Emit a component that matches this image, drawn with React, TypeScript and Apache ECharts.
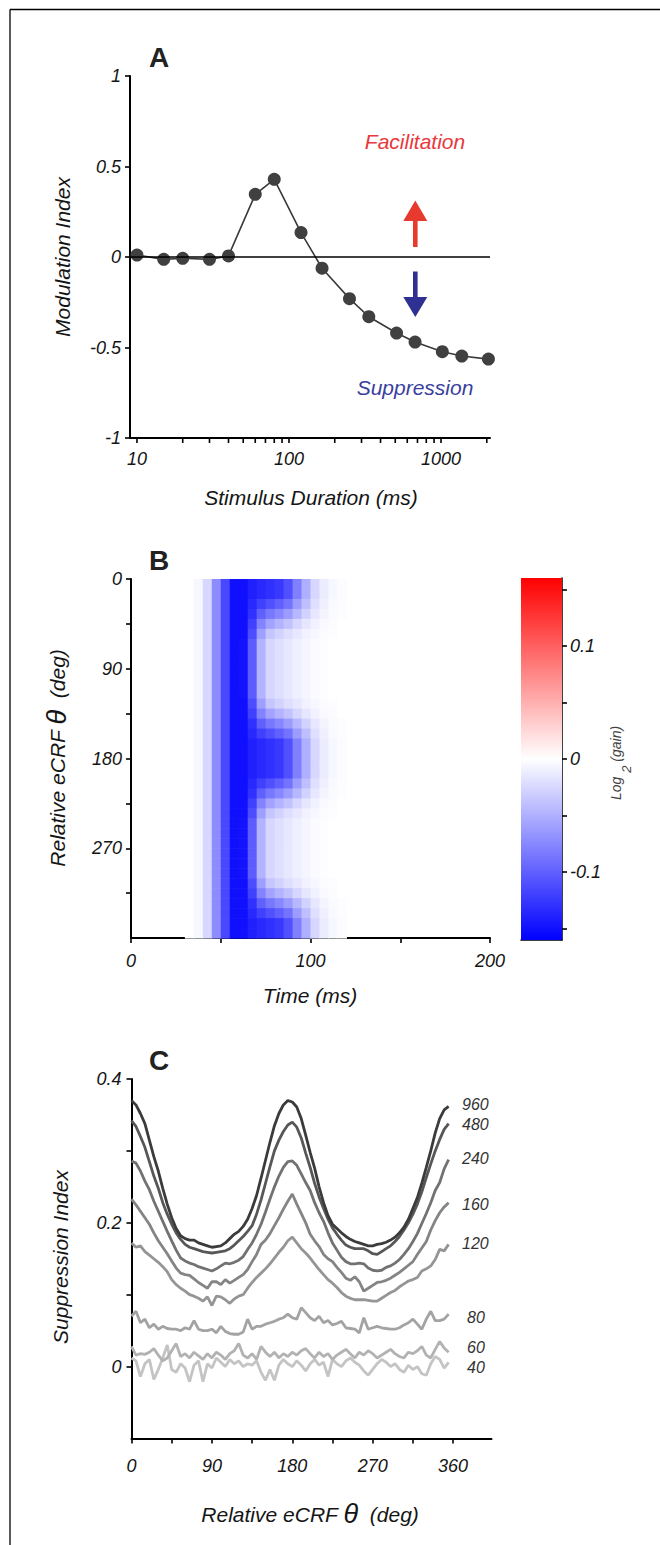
import React, { useEffect, useRef } from 'react';
import * as echarts from 'echarts';

// ---------- Panel A data ----------
const DURATIONS_MS = [10, 15, 20, 30, 40, 60, 80, 120, 165, 250, 335, 510, 675, 1020, 1370, 2050];
const MOD_INDEX = [0.011, -0.013, -0.007, -0.013, 0.006, 0.346, 0.429, 0.135, -0.062, -0.23, -0.33, -0.42, -0.47, -0.523, -0.547, -0.564];
const A_X_TICKS = [10, 20, 30, 40, 50, 60, 70, 80, 90, 100, 200, 300, 400, 500, 600, 700, 800, 900, 1000, 2000];

// ---------- Panel B data (log2 gain heat map) ----------
const HEAT_TIMES = [32.5, 37.5, 42.5, 47.5, 52.5, 57.5, 62.5, 67.5, 72.5, 77.5, 82.5, 87.5, 92.5, 97.5, 102.5, 107.5, 112.5, 117.5];
const HEAT_THETAS = [5, 15, 25, 35, 45, 55, 65, 75, 85, 95, 105, 115, 125, 135, 145, 155, 165, 175, 185, 195, 205, 215, 225, 235, 245, 255, 265, 275, 285, 295, 305, 315, 325, 335, 345, 355];
const PROFILE_L0 = [0, -0.005, -0.025, -0.072, -0.115, -0.15, -0.15, -0.14, -0.135, -0.13, -0.125, -0.11, -0.08, -0.05, -0.025, -0.012, -0.005, -0.002];
const PROFILE_L1 = [0, -0.005, -0.025, -0.072, -0.115, -0.15, -0.15, -0.135, -0.12, -0.11, -0.1, -0.088, -0.062, -0.04, -0.02, -0.01, -0.004, -0.001];
const PROFILE_L2 = [0, -0.005, -0.025, -0.072, -0.115, -0.15, -0.15, -0.13, -0.1, -0.085, -0.075, -0.062, -0.045, -0.028, -0.015, -0.007, -0.003, -0.001];
const PROFILE_L3 = [0, -0.005, -0.025, -0.072, -0.115, -0.15, -0.15, -0.12, -0.078, -0.058, -0.048, -0.038, -0.026, -0.016, -0.009, -0.004, -0.002, 0];
const PROFILE_L4 = [0, -0.005, -0.025, -0.072, -0.115, -0.15, -0.15, -0.112, -0.06, -0.036, -0.028, -0.021, -0.015, -0.009, -0.005, -0.002, -0.001, 0];
const PROFILE_L5 = [0, -0.005, -0.025, -0.072, -0.115, -0.15, -0.148, -0.102, -0.048, -0.026, -0.02, -0.015, -0.01, -0.006, -0.003, -0.001, 0, 0];
const PROFILES = [PROFILE_L0, PROFILE_L1, PROFILE_L2, PROFILE_L3, PROFILE_L4, PROFILE_L5];
const ROW_PROFILE = [0, 0, 1, 2, 3, 4, 5, 5, 5, 5, 5, 5, 4, 3, 2, 1, 0, 0, 0, 0, 1, 2, 3, 4, 5, 5, 5, 5, 5, 5, 4, 3, 2, 1, 0, 0];
const COLORBAR_TICKS = [-0.15, -0.1, -0.05, 0, 0.05, 0.1, 0.15];
const COLORBAR_LABELS = [-0.1, 0, 0.1];

// ---------- Panel C data ----------
const THETA_DEG = [0, 5, 10, 15, 20, 25, 30, 35, 40, 45, 50, 55, 60, 65, 70, 75, 80, 85, 90, 95, 100, 105, 110, 115, 120, 125, 130, 135, 140, 145, 150, 155, 160, 165, 170, 175, 180, 185, 190, 195, 200, 205, 210, 215, 220, 225, 230, 235, 240, 245, 250, 255, 260, 265, 270, 275, 280, 285, 290, 295, 300, 305, 310, 315, 320, 325, 330, 335, 340, 345, 350, 355];
const SI_40 = [0.012, 0.008, -0.014, 0.004, 0.010, -0.018, -0.004, 0.012, 0.030, -0.004, -0.008, 0.004, -0.002, -0.021, 0.002, 0.008, -0.021, 0.004, -0.002, 0.012, 0.006, 0.000, 0.010, 0.004, 0.008, 0.000, 0.004, 0.002, 0.008, -0.008, -0.019, -0.004, -0.019, 0.002, 0.010, 0.004, 0.000, 0.008, 0.002, -0.006, 0.004, 0.010, 0.002, 0.006, -0.014, 0.010, 0.004, 0.000, 0.008, 0.012, 0.006, 0.002, -0.006, -0.012, -0.004, 0.004, 0.010, 0.006, 0.000, 0.004, -0.004, -0.008, 0.002, -0.004, 0.000, -0.010, -0.012, 0.004, 0.014, 0.010, -0.002, 0.006];
const SI_60 = [0.028, 0.016, 0.018, 0.017, 0.020, 0.025, 0.016, 0.008, 0.012, 0.022, 0.032, 0.014, 0.018, 0.012, 0.020, 0.015, 0.010, 0.018, 0.012, 0.020, 0.016, 0.010, 0.018, 0.022, 0.032, 0.016, 0.012, 0.018, 0.010, 0.028, 0.020, 0.014, 0.020, 0.012, 0.018, 0.014, 0.020, 0.016, 0.022, 0.025, 0.018, 0.012, 0.020, 0.014, 0.018, 0.010, 0.016, 0.020, 0.024, 0.018, 0.012, 0.020, 0.016, 0.022, 0.018, 0.012, 0.016, 0.020, 0.024, 0.018, 0.014, 0.012, 0.020, 0.018, 0.022, 0.028, 0.016, 0.012, 0.024, 0.035, 0.026, 0.020];
const SI_80 = [0.070, 0.077, 0.061, 0.066, 0.054, 0.059, 0.052, 0.056, 0.053, 0.052, 0.052, 0.050, 0.054, 0.052, 0.064, 0.052, 0.050, 0.050, 0.052, 0.047, 0.056, 0.049, 0.046, 0.045, 0.045, 0.048, 0.066, 0.052, 0.056, 0.056, 0.059, 0.061, 0.063, 0.066, 0.068, 0.073, 0.068, 0.066, 0.082, 0.075, 0.068, 0.064, 0.070, 0.061, 0.064, 0.058, 0.060, 0.063, 0.054, 0.053, 0.052, 0.047, 0.068, 0.052, 0.054, 0.056, 0.054, 0.053, 0.052, 0.052, 0.054, 0.058, 0.061, 0.066, 0.059, 0.052, 0.066, 0.077, 0.064, 0.064, 0.066, 0.073];
const SI_120 = [0.172, 0.166, 0.168, 0.160, 0.155, 0.150, 0.145, 0.139, 0.132, 0.121, 0.114, 0.109, 0.105, 0.100, 0.098, 0.095, 0.091, 0.097, 0.085, 0.098, 0.097, 0.093, 0.088, 0.094, 0.098, 0.100, 0.109, 0.117, 0.124, 0.130, 0.136, 0.143, 0.151, 0.159, 0.166, 0.175, 0.180, 0.172, 0.164, 0.158, 0.151, 0.143, 0.135, 0.128, 0.121, 0.116, 0.110, 0.103, 0.098, 0.095, 0.093, 0.093, 0.093, 0.092, 0.091, 0.091, 0.095, 0.099, 0.103, 0.106, 0.111, 0.115, 0.119, 0.121, 0.124, 0.133, 0.136, 0.140, 0.149, 0.163, 0.161, 0.170];
const SI_160 = [0.233, 0.225, 0.216, 0.207, 0.198, 0.186, 0.175, 0.166, 0.157, 0.147, 0.137, 0.130, 0.128, 0.127, 0.122, 0.117, 0.113, 0.109, 0.118, 0.118, 0.114, 0.121, 0.116, 0.120, 0.124, 0.128, 0.135, 0.146, 0.156, 0.170, 0.176, 0.185, 0.196, 0.207, 0.219, 0.230, 0.240, 0.226, 0.213, 0.200, 0.184, 0.175, 0.167, 0.156, 0.150, 0.146, 0.138, 0.131, 0.123, 0.120, 0.125, 0.118, 0.105, 0.109, 0.113, 0.117, 0.118, 0.120, 0.123, 0.127, 0.131, 0.136, 0.141, 0.146, 0.156, 0.165, 0.174, 0.190, 0.203, 0.214, 0.222, 0.228];
const SI_240 = [0.286, 0.283, 0.272, 0.258, 0.246, 0.230, 0.216, 0.202, 0.188, 0.175, 0.162, 0.151, 0.147, 0.144, 0.142, 0.139, 0.137, 0.135, 0.133, 0.136, 0.140, 0.144, 0.143, 0.145, 0.148, 0.153, 0.163, 0.172, 0.184, 0.198, 0.215, 0.233, 0.250, 0.265, 0.277, 0.285, 0.286, 0.280, 0.268, 0.256, 0.245, 0.228, 0.214, 0.202, 0.186, 0.172, 0.162, 0.152, 0.146, 0.143, 0.143, 0.144, 0.143, 0.137, 0.134, 0.133, 0.134, 0.138, 0.140, 0.144, 0.149, 0.156, 0.164, 0.174, 0.185, 0.199, 0.213, 0.228, 0.245, 0.256, 0.275, 0.288];
const SI_480 = [0.342, 0.334, 0.320, 0.305, 0.285, 0.265, 0.248, 0.228, 0.212, 0.198, 0.186, 0.177, 0.170, 0.166, 0.164, 0.162, 0.160, 0.159, 0.158, 0.159, 0.160, 0.161, 0.164, 0.169, 0.175, 0.181, 0.188, 0.196, 0.212, 0.232, 0.255, 0.278, 0.300, 0.315, 0.327, 0.336, 0.340, 0.333, 0.318, 0.297, 0.277, 0.255, 0.236, 0.220, 0.205, 0.193, 0.184, 0.176, 0.169, 0.166, 0.164, 0.164, 0.164, 0.161, 0.157, 0.156, 0.160, 0.164, 0.168, 0.174, 0.181, 0.190, 0.200, 0.212, 0.226, 0.243, 0.263, 0.282, 0.300, 0.316, 0.330, 0.338];
const SI_960 = [0.370, 0.364, 0.352, 0.338, 0.315, 0.292, 0.272, 0.248, 0.226, 0.207, 0.192, 0.182, 0.178, 0.176, 0.176, 0.172, 0.170, 0.168, 0.166, 0.167, 0.168, 0.172, 0.178, 0.184, 0.188, 0.195, 0.205, 0.220, 0.238, 0.262, 0.287, 0.312, 0.335, 0.352, 0.364, 0.370, 0.368, 0.361, 0.345, 0.322, 0.298, 0.276, 0.250, 0.228, 0.210, 0.198, 0.192, 0.186, 0.181, 0.177, 0.174, 0.172, 0.170, 0.168, 0.168, 0.170, 0.171, 0.173, 0.176, 0.180, 0.186, 0.194, 0.205, 0.220, 0.235, 0.255, 0.277, 0.300, 0.325, 0.345, 0.357, 0.362];
const C_SERIES = [SI_40, SI_60, SI_80, SI_120, SI_160, SI_240, SI_480, SI_960];
const C_NAMES = ['40', '60', '80', '120', '160', '240', '480', '960'];
const C_COLORS = ['#c4c4c4', '#b2b2b2', '#a3a3a3', '#959595', '#848484', '#727272', '#575757', '#3b3b3b'];
const C_X_TICKS = [0, 45, 90, 135, 180, 225, 270, 315, 360];
const C_X_LABELS = [0, 90, 180, 270, 360];
const C_Y_TICKS = [0, 0.1, 0.2, 0.3, 0.4];
const C_Y_LABELS = [0, 0.2, 0.4];
const B_Y_TICKS = [0, 45, 90, 135, 180, 225, 270, 315];
const B_Y_LABELS = [0, 90, 180, 270];
const B_X_TICKS = [0, 50, 100, 150, 200];
const B_X_LABELS = [0, 100, 200];

const FONT = "'Liberation Sans', Arial, Helvetica, sans-serif";
const INK = '#151515';

const labelStyle = { color: INK, fontSize: 18, fontStyle: 'italic', fontFamily: FONT };
const lineStyle = { lineStyle: { color: '#000', width: 2 } };

function buildOption() {
  const heatData: number[][] = [];
  HEAT_THETAS.forEach((th, r) => {
    const prof = PROFILES[ROW_PROFILE[r]];
    HEAT_TIMES.forEach((t, c) => heatData.push([t, th, prof[c]]));
  });

  const cLabelPos: Record<string, [number, number]> = {
    '960': [462, 1104], '480': [462, 1124], '240': [462, 1158], '160': [462, 1204],
    '120': [462, 1243], '80': [467, 1317], '60': [467, 1347], '40': [467, 1367],
  };

  const txt = (text: string, x: number, y: number, extra: any = {}) => ({
    type: 'text', x, y, silent: true,
    style: { text, fill: INK, fontSize: 21, fontStyle: 'italic', fontFamily: FONT, align: 'center', verticalAlign: 'middle', ...extra },
  });

  const thetaTitle = (x: number, y: number, rot: number) => ({
    type: 'text', x, y, rotation: rot, silent: true,
    style: {
      text: '{a|Relative eCRF }{t|θ}{a|  (deg)}', align: 'center', verticalAlign: 'middle',
      rich: {
        a: { fill: INK, fontSize: 21, fontStyle: 'italic', fontFamily: FONT },
        t: { fill: INK, fontSize: 27, fontStyle: 'italic', fontFamily: FONT },
      },
    },
  });

  const graphic: any[] = [
    { type: 'line', shape: { x1: 10, y1: 9.5, x2: 660, y2: 9.5 }, style: { stroke: '#000', lineWidth: 1.3 }, silent: true },
    { type: 'line', shape: { x1: 10, y1: 9.5, x2: 10, y2: 1545 }, style: { stroke: '#000', lineWidth: 1.3 }, silent: true },
    txt('A', 159, 57, { fontSize: 28, fontWeight: 'bold', fontStyle: 'normal', fill: '#222' }),
    txt('B', 159, 560, { fontSize: 28, fontWeight: 'bold', fontStyle: 'normal', fill: '#222' }),
    txt('C', 159, 1060, { fontSize: 28, fontWeight: 'bold', fontStyle: 'normal', fill: '#222' }),
    { ...txt('Modulation Index', 62, 257), rotation: Math.PI / 2 },
    txt('Stimulus Duration (ms)', 311, 497),
    txt('Facilitation', 415, 141, { fill: '#e8383d' }),
    txt('Suppression', 415, 387, { fill: '#3a3f9e' }),
    { type: 'rect', shape: { x: 413, y: 219, width: 4.6, height: 28 }, style: { fill: '#e8392f' }, silent: true },
    { type: 'polygon', shape: { points: [[415.3, 200.5], [403.3, 221], [427.3, 221]] }, style: { fill: '#e8392f' }, silent: true },
    { type: 'rect', shape: { x: 413, y: 271.5, width: 4.6, height: 27 }, style: { fill: '#2e3192' }, silent: true },
    { type: 'polygon', shape: { points: [[403.3, 297], [427.3, 297], [415.3, 317]] }, style: { fill: '#2e3192' }, silent: true },
    thetaTitle(57, 758, Math.PI / 2),
    txt('Time (ms)', 310, 995),
    {
      type: 'text', x: 621, y: 763, rotation: Math.PI / 2, silent: true,
      style: {
        text: '{a|Log }{s|2}{a| (gain)}', align: 'center', verticalAlign: 'middle',
        rich: {
          a: { fill: '#444', fontSize: 14, fontStyle: 'italic', fontFamily: FONT, lineHeight: 14, verticalAlign: 'top' },
          s: { fill: '#444', fontSize: 13, fontStyle: 'italic', fontFamily: FONT, lineHeight: 24, verticalAlign: 'bottom' },
        },
      },
    },
    { ...txt('Suppression Index', 60, 1257), rotation: Math.PI / 2 },
    thetaTitle(310, 1514, 0),
  ];
  C_NAMES.forEach((n) => {
    const [x, y] = cLabelPos[n];
    graphic.push(txt(n, x, y, { fontSize: 16, align: 'left', fill: '#333' }));
  });

  const tickOut = (len = 5) => ({ show: true, inside: false, length: len, lineStyle: { color: '#000', width: 1.6 } });

  return {
    animation: false,
    backgroundColor: '#fff',
    grid: [
      { left: 130, top: 76, width: 360, height: 362 },
      { left: 131, top: 579, width: 359, height: 359 },
      { left: 521, top: 578, width: 41, height: 362 },
      { left: 131.5, top: 1079, width: 360, height: 359.5 },
    ],
    xAxis: [
      {
        gridIndex: 0, type: 'log', logBase: 10, min: 9, max: 2100,
        axisLine: { show: true, onZero: false, ...lineStyle }, axisTick: { show: false },
        splitLine: { show: false }, minorTick: { show: false },
        axisLabel: { ...labelStyle, margin: 12, showMinLabel: false, showMaxLabel: false, formatter: (v: number) => String(Math.round(v)) },
      },
      {
        gridIndex: 1, type: 'value', min: 0, max: 200,
        axisLine: { show: true, onZero: false, ...lineStyle },
        axisTick: { ...tickOut(), customValues: B_X_TICKS },
        axisLabel: { ...labelStyle, margin: 14, customValues: B_X_LABELS },
        splitLine: { show: false },
      },
      {
        gridIndex: 2, type: 'value', min: 0, max: 1,
        axisLine: { show: true, onZero: false, lineStyle: { color: '#000', width: 1.5 } },
        axisTick: { show: false }, axisLabel: { show: false }, splitLine: { show: false },
      },
      {
        gridIndex: 3, type: 'value', min: 0, max: 403,
        axisLine: { show: true, onZero: false, ...lineStyle },
        axisTick: { ...tickOut(), customValues: C_X_TICKS },
        axisLabel: { ...labelStyle, margin: 18, customValues: C_X_LABELS },
        splitLine: { show: false },
      },
    ],
    yAxis: [
      {
        gridIndex: 0, type: 'value', min: -1, max: 1, interval: 0.5,
        axisLine: { show: true, onZero: false, ...lineStyle }, axisTick: tickOut(),
        axisLabel: { ...labelStyle, margin: 9 }, splitLine: { show: false },
      },
      {
        gridIndex: 1, type: 'value', min: 0, max: 360, inverse: true,
        axisLine: { show: true, onZero: false, ...lineStyle },
        axisTick: { ...tickOut(), customValues: B_Y_TICKS },
        axisLabel: { ...labelStyle, margin: 9, customValues: B_Y_LABELS },
        splitLine: { show: false },
      },
      {
        gridIndex: 2, type: 'value', min: -0.16, max: 0.16, position: 'right',
        axisLine: { show: true, onZero: false, lineStyle: { color: '#000', width: 1.5 } },
        axisTick: { ...tickOut(), customValues: COLORBAR_TICKS },
        axisLabel: { ...labelStyle, margin: 8, customValues: COLORBAR_LABELS, formatter: (v: number) => String(Math.round(v * 100) / 100) },
        splitLine: { show: false },
      },
      {
        gridIndex: 3, type: 'value', min: -0.1, max: 0.4,
        axisLine: { show: true, onZero: false, ...lineStyle },
        axisTick: { ...tickOut(), customValues: C_Y_TICKS },
        axisLabel: { ...labelStyle, margin: 10, customValues: C_Y_LABELS, formatter: (v: number) => String(Math.round(v * 10) / 10) },
        splitLine: { show: false },
      },
    ],
    visualMap: [
      {
        type: 'continuous', show: false, seriesIndex: 2, dimension: 2, min: -0.16, max: 0.16,
        inRange: { color: ['#0000ff', '#ffffff', '#ff0000'] },
      },
    ],
    graphic,
    series: [
      {
        type: 'line', xAxisIndex: 0, yAxisIndex: 0, silent: true,
        data: DURATIONS_MS.map((d, i) => [d, MOD_INDEX[i]]),
        symbol: 'circle', symbolSize: 13, z: 4,
        itemStyle: { color: '#404040' }, lineStyle: { color: '#3a3a3a', width: 1.6 },
        markLine: {
          silent: true, symbol: 'none', label: { show: false },
          lineStyle: { color: '#000', width: 1.5, type: 'solid' }, data: [{ yAxis: 0 }],
        },
      },
      {
        type: 'custom', xAxisIndex: 0, yAxisIndex: 0, silent: true, z: 5,
        data: A_X_TICKS.map((v) => [v, -1]), encode: { x: 0, y: 1 },
        renderItem: (_p: any, api: any) => {
          const p = api.coord([api.value(0), api.value(1)]);
          return { type: 'line', shape: { x1: p[0], y1: p[1], x2: p[0], y2: p[1] + 5 }, style: { stroke: '#000', lineWidth: 1.6 } };
        },
      },
      {
        type: 'custom', xAxisIndex: 1, yAxisIndex: 1, silent: true, z: 1,
        data: heatData, encode: { x: 0, y: 1 },
        renderItem: (_p: any, api: any) => {
          const t = api.value(0);
          const th = api.value(1);
          const p0 = api.coord([t - 2.5, th - 5]);
          const p1 = api.coord([t + 2.5, th + 5]);
          return {
            type: 'rect',
            shape: { x: Math.min(p0[0], p1[0]), y: Math.min(p0[1], p1[1]), width: Math.abs(p1[0] - p0[0]) + 0.6, height: Math.abs(p1[1] - p0[1]) + 0.6 },
            style: { fill: api.visual('color') },
          };
        },
      },
      {
        type: 'custom', xAxisIndex: 2, yAxisIndex: 2, silent: true, z: 1,
        data: [[0, 0]], encode: { x: 0, y: 1 },
        renderItem: (_p: any, api: any) => {
          const a = api.coord([0, 0.16]);
          const b = api.coord([1, -0.16]);
          return {
            type: 'rect',
            shape: { x: a[0], y: a[1], width: b[0] - a[0], height: b[1] - a[1] },
            style: {
              fill: {
                type: 'linear', x: 0, y: 0, x2: 0, y2: 1,
                colorStops: [{ offset: 0, color: '#ff0000' }, { offset: 0.5, color: '#ffffff' }, { offset: 1, color: '#0000ff' }],
              },
            },
          };
        },
      },
      ...C_SERIES.map((vals, i) => ({
        type: 'line', name: C_NAMES[i], xAxisIndex: 3, yAxisIndex: 3, silent: true,
        data: THETA_DEG.map((th, k) => [th, vals[k]]),
        showSymbol: false, symbol: 'none', z: 2 + i * 0.1,
        lineStyle: { color: C_COLORS[i], width: 2.8 },
      })),
    ],
  };
}

export default function App() {
  const ref = useRef<HTMLDivElement>(null);
  useEffect(() => {
    if (!ref.current) return;
    const chart = echarts.init(ref.current, null, { renderer: 'svg' });
    chart.setOption(buildOption() as any);
    return () => chart.dispose();
  }, []);
  return (
    <div
      ref={ref}
      style={{ position: 'fixed', left: 0, top: 0, width: 660, height: 1545, background: '#fff' }}
    />
  );
}
